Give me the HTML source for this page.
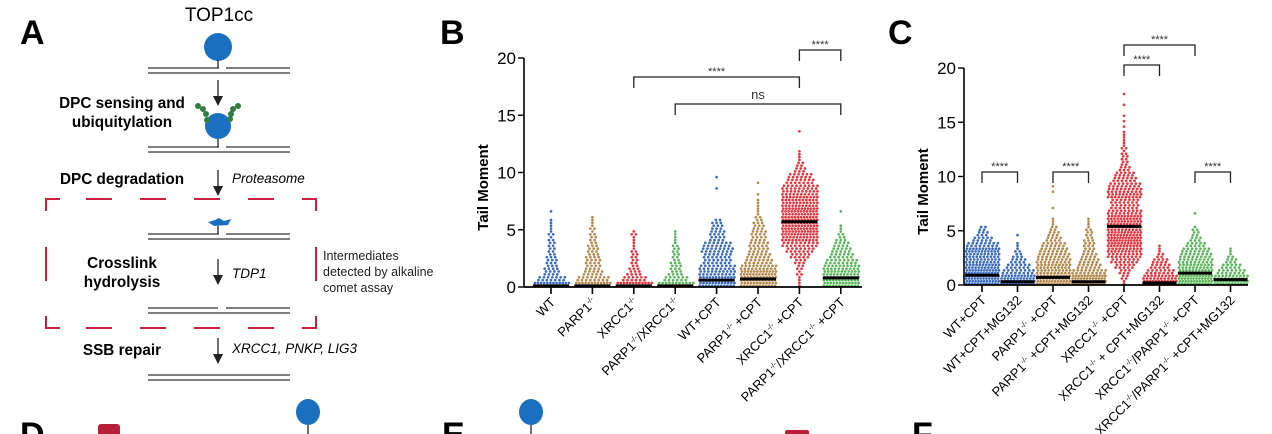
<!DOCTYPE html>
<html><head><meta charset="utf-8"><style>
html,body{margin:0;padding:0;background:#fff;}
svg{display:block;font-family:"Liberation Sans",Arial,sans-serif;}
</style></head><body>
<svg id="fig" width="1272" height="434" viewBox="0 0 1272 434">
<g font-weight="bold" font-size="34" fill="#000">
<text x="20" y="44">A</text>
<text x="440" y="44">B</text>
<text x="888" y="44">C</text>
<text x="20" y="446">D</text>
<text x="442" y="446">E</text>
<text x="912" y="446">F</text>
</g>
<g id="panelA" stroke-linecap="butt">
<text x="219" y="21" font-size="19" text-anchor="middle">TOP1cc</text>
<circle cx="218" cy="47" r="14" fill="#1a6fc0"/>
<line x1="218" y1="60" x2="218" y2="68" stroke="#222" stroke-width="1.3"/>
<g stroke="#333" stroke-width="1.3">
<line x1="148" y1="68" x2="219" y2="68"/><line x1="226" y1="68" x2="290" y2="68"/><line x1="148" y1="73" x2="290" y2="73"/></g>
<g><line x1="218" y1="80" x2="218" y2="100" stroke="#222" stroke-width="1.3"/><path d="M213,96 L218,106 L223,96 Z" fill="#222"/></g>
<g font-weight="bold" font-size="15.3" text-anchor="middle">
<text x="122" y="108">DPC sensing and</text>
<text x="122" y="127">ubiquitylation</text>
<text x="122" y="184">DPC degradation</text>
<text x="122" y="268">Crosslink</text>
<text x="122" y="287">hydrolysis</text>
<text x="122" y="355">SSB repair</text>
</g>
<circle cx="218" cy="126" r="13" fill="#1a6fc0"/>
<g fill="#2f7d3f">
<circle cx="198" cy="106" r="3"/><circle cx="203" cy="109" r="3"/><circle cx="206" cy="114" r="3"/><circle cx="207" cy="120" r="3"/>
<circle cx="238" cy="106" r="3"/><circle cx="233" cy="109" r="3"/><circle cx="231" cy="114" r="3"/><circle cx="230" cy="119" r="3"/></g>
<line x1="218" y1="139" x2="218" y2="147" stroke="#222" stroke-width="1.3"/>
<g stroke="#333" stroke-width="1.3">
<line x1="148" y1="147" x2="219" y2="147"/><line x1="226" y1="147" x2="290" y2="147"/><line x1="148" y1="152" x2="290" y2="152"/></g>
<g><line x1="218" y1="170" x2="218" y2="190" stroke="#222" stroke-width="1.3"/><path d="M213,186 L218,196 L223,186 Z" fill="#222"/></g>
<g font-style="italic" font-size="13.5">
<text x="232" y="183">Proteasome</text>
<text x="232" y="278">TDP1</text>
<text x="232" y="353">XRCC1, PNKP, LIG3</text>
</g>
<g stroke="#c8203f" stroke-width="2" fill="none">
<path d="M46,211 L46,199 L60,199"/><line x1="86" y1="199" x2="112" y2="199"/><line x1="140" y1="199" x2="166" y2="199"/><line x1="194" y1="199" x2="220" y2="199"/><line x1="248" y1="199" x2="274" y2="199"/><path d="M302,199 L316,199 L316,211"/>
<line x1="46" y1="247" x2="46" y2="281"/><line x1="316" y1="247" x2="316" y2="281"/>
<path d="M46,316 L46,328 L60,328"/><line x1="86" y1="328" x2="112" y2="328"/><line x1="140" y1="328" x2="166" y2="328"/><line x1="194" y1="328" x2="220" y2="328"/><line x1="248" y1="328" x2="274" y2="328"/><path d="M302,328 L316,328 L316,316"/>
</g>
<path d="M208,222 L215,220 L219,218 L224,221 L231,219 L228,225 L214,226 Z" fill="#1a6fc0"/>
<line x1="218" y1="226" x2="218" y2="234" stroke="#222" stroke-width="1.3"/>
<g stroke="#333" stroke-width="1.3">
<line x1="148" y1="234" x2="219" y2="234"/><line x1="226" y1="234" x2="290" y2="234"/><line x1="148" y1="239" x2="290" y2="239"/></g>
<g><line x1="218" y1="259" x2="218" y2="279" stroke="#222" stroke-width="1.3"/><path d="M213,275 L218,285 L223,275 Z" fill="#222"/></g>
<g font-size="12.5" fill="#222">
<text x="323" y="260">Intermediates</text>
<text x="323" y="276">detected by alkaline</text>
<text x="323" y="292">comet assay</text>
</g>
<g stroke="#333" stroke-width="1.3">
<line x1="148" y1="308" x2="218" y2="308"/><line x1="226" y1="308" x2="290" y2="308"/><line x1="148" y1="313" x2="290" y2="313"/></g>
<g><line x1="218" y1="338" x2="218" y2="358" stroke="#222" stroke-width="1.3"/><path d="M213,354 L218,364 L223,354 Z" fill="#222"/></g>
<g stroke="#333" stroke-width="1.3">
<line x1="148" y1="375" x2="290" y2="375"/><line x1="148" y1="380" x2="290" y2="380"/></g>
</g>
<rect x="98" y="424" width="22" height="14" rx="3" fill="#b8203a"/>
<ellipse cx="308" cy="412" rx="12" ry="13" fill="#1a6fc0"/>
<line x1="308" y1="425" x2="308" y2="434" stroke="#222" stroke-width="1.3"/>
<ellipse cx="531" cy="412" rx="12" ry="13" fill="#1a6fc0"/>
<line x1="531" y1="425" x2="531" y2="434" stroke="#222" stroke-width="1.3"/>
<rect x="785" y="430" width="24" height="8" rx="2" fill="#b8203a"/>
<g id="chartB"></g>
<g id="chartC"></g>
</svg>
<script>
const catsB = ["WT","PARP1|-/-","XRCC1|-/-","PARP1|-/-|/XRCC1|-/-","WT+CPT","PARP1|-/-| +CPT","XRCC1|-/-| +CPT","PARP1|-/-|/XRCC1|-/-| +CPT"];
const mediansB = [0.1,0.1,0.1,0.1,0.6,0.7,5.7,0.8];
const binsB = [
 [24,14,8,7,6,5,4,4,3,3,2,2,0,1],
 [24,16,10,8,8,7,6,5,4,3,3,2,1],
 [24,12,7,5,4,4,3,2,2,3],
 [22,12,7,6,5,4,4,3,2,2],
 [24,24,20,18,14,14,16,14,8,8,6,5,0,0,0,0,0,1,0,1],
 [24,24,24,20,14,12,10,10,8,8,6,5,3,2,2,1,1,0,1],
 [2,2,3,4,6,10,14,18,22,24,24,24,24,24,22,22,20,18,14,12,6,4,2,2,0,0,0,1],
 [24,24,22,20,16,12,10,8,5,3,2,0,0,1]
];
const colorIdxB = [0,1,2,3,0,1,2,3];
const ticksB = [0,5,10,15,20];
const bracketsB = [[2,6,"****",0],[3,7,"ns",1],[6,7,"****",2]];
const catsC = ["WT+CPT","WT+CPT+MG132","PARP1|-/-| +CPT","PARP1|-/-| +CPT+MG132","XRCC1|-/-| +CPT","XRCC1|-/-| + CPT+MG132","XRCC1|-/-|/PARP1|-/-| +CPT","XRCC1|-/-|/PARP1|-/-| +CPT+MG132"];
const mediansC = [0.9,0.3,0.7,0.3,5.4,0.2,1.1,0.5];
const binsC = [
 [24,24,24,22,20,20,22,16,10,6,4],
 [24,22,16,12,8,5,3,2,0,1],
 [24,22,20,20,18,16,14,12,8,6,4,2,1,0,1,0,0,1,1],
 [24,24,18,12,10,8,6,6,5,4,3,2,1],
 [2,4,6,10,14,18,20,22,24,22,20,22,22,18,14,14,20,18,16,12,10,6,4,4,3,3,2,2,1,1,1,1,0,1,0,1],
 [24,20,14,10,8,4,2,1],
 [24,24,22,20,18,16,14,10,6,4,3,0,0,1],
 [24,20,14,10,6,3,2]
];
const colorIdxC = [0,0,1,1,2,2,3,3];
const ticksC = [0,5,10,15,20];
const bracketsC = [[0,1,"****",0],[2,3,"****",0],[6,7,"****",0],[4,5,"****",1],[4,6,"****",2]];

const palette = ["#3b6cc0","#b5894b","#e5353f","#5bb65a"];
const NS = "http://www.w3.org/2000/svg";
function mk(tag, attrs, parent){const e=document.createElementNS(NS,tag);for(const k in attrs)e.setAttribute(k,attrs[k]);parent.appendChild(e);return e;}

function drawChart(g, cfg){
  const y = v => cfg.y0 - v*(cfg.y0-cfg.y20)/20;
  const x = i => cfg.x0 + i*cfg.dx;
  const ax = mk('line',{x1:cfg.ax,y1:y(20),x2:cfg.ax,y2:y(0),stroke:'#000','stroke-width':1.6},g);
  
  
  cfg.ticks.forEach(t=>{
    mk('line',{x1:cfg.ax-6,y1:y(t),x2:cfg.ax,y2:y(t),stroke:'#000','stroke-width':1.4},g);
    const tl = mk('text',{x:cfg.ax-8,y:y(t)+6,'font-size':17,'text-anchor':'end'},g);
    tl.textContent=t;
    
    
  });
  const yt = mk('text',{x:0,y:0,'font-size':15,'font-weight':'bold','text-anchor':'middle',transform:`translate(${cfg.ax-36},${(y(0)+y(20))/2+15}) rotate(-90)`},g);
  yt.textContent='Tail Moment';
  
  
  const half = cfg.half;
  cfg.bins.forEach((bins,i)=>{
    const col = palette[cfg.colors[i]];
    const grp = mk('g',{fill:col},g);
    
    
    bins.forEach((n,b)=>{
      const r1=Math.ceil(n/2), r2=n-r1;
      [[r1,0.2,0],[r2,0.7,1]].forEach(([m,off,alt])=>{
        const yy=y((b+off)*0.5);
        const w = Math.min((m-1)*4.2, half*2);
        const step = m>1 ? w/(m-1) : 0;
        for(let k=0;k<m;k++){
          const xx=x(i)-w/2+k*step+(alt&&m>1?step*0.3:0);
          mk('circle',{cx:xx.toFixed(1),cy:yy.toFixed(1),r:1.35},grp);
        }
      });
    });
    const med = mk('line',{x1:x(i)-half-1,x2:x(i)+half+1,y1:y(cfg.medians[i]),y2:y(cfg.medians[i]),stroke:'#000','stroke-width':3},g);
    
    
  });
  const xa = mk('line',{x1:cfg.ax,y1:y(0),x2:cfg.axEnd,y2:y(0),stroke:'#000','stroke-width':1.8},g);
  
  
  cfg.cats.forEach((c,i)=>{
    mk('line',{x1:x(i),y1:y(0),x2:x(i),y2:y(0)+7,stroke:'#000','stroke-width':1.6},g);
    const t = mk('text',{'font-size':13,'text-anchor':'end',transform:`translate(${x(i)+5},${y(0)+16}) rotate(-45)`},g);
    
    
    c.split('|').forEach((part,j)=>{
      const ts=mk('tspan',{},t);
      if(part==='-/-'){ts.setAttribute('font-size','7.5');ts.setAttribute('dy','-5');}
      else if(j>0){ts.setAttribute('dy','5');}
      ts.textContent=part;
    });
  });
  cfg.brackets.forEach(([a,b,lab,lvl])=>{
    const by=cfg.bLevels[lvl];
    const p=mk('path',{d:`M${x(a)},${by+11} L${x(a)},${by} L${x(b)},${by} L${x(b)},${by+11}`,fill:'none',stroke:'#222','stroke-width':1.3},g);
    
    
    const t=mk('text',{x:(x(a)+x(b))/2,y:lab==='ns'?by-5:by-2,'font-size':lab==='ns'?13:11,'text-anchor':'middle',fill:'#333'},g);
    t.textContent=lab;
    
    
  });
}
drawChart(document.getElementById('chartB'),{ax:524,axEnd:862,y0:287,y20:58,x0:551,dx:41.4,half:17,cats:catsB,bins:binsB,medians:mediansB,colors:colorIdxB,ticks:ticksB,brackets:bracketsB,bLevels:[77,104,50]});
drawChart(document.getElementById('chartC'),{ax:964,axEnd:1248,y0:285,y20:68,x0:982,dx:35.5,half:16,cats:catsC,bins:binsC,medians:mediansC,colors:colorIdxC,ticks:ticksC,brackets:bracketsC,bLevels:[172,65,45]});
</script>
</body></html>
